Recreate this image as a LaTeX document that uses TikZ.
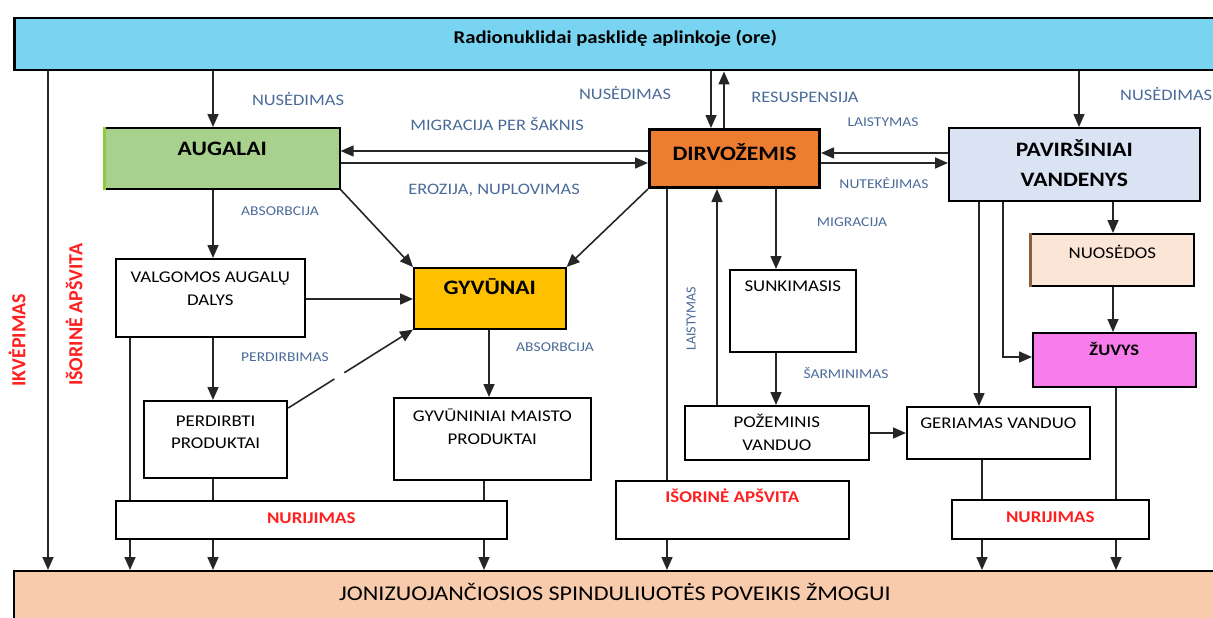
\documentclass[tikz,border=0pt]{standalone}
\usepackage{fontspec}
\setmainfont{Carlito}[FakeStretch=1.15]
\newfontfamily\upfont{Carlito}
\usetikzlibrary{arrows.meta,calc}
\definecolor{airblue}{HTML}{78D4F1}
\definecolor{humanpeach}{HTML}{F8CBAD}
\definecolor{plantgreen}{HTML}{A9D18E}
\definecolor{plantedge}{HTML}{92C83E}
\definecolor{soilorange}{HTML}{ED7D31}
\definecolor{waterblue}{HTML}{DAE3F3}
\definecolor{animalgold}{HTML}{FFC000}
\definecolor{sedpeach}{HTML}{FBE5D6}
\definecolor{sededge}{HTML}{8B5E3C}
\definecolor{fishpink}{HTML}{F77DEC}
\definecolor{pathblue}{HTML}{4A6B98}
\definecolor{routered}{HTML}{FF1F1F}

\begin{document}
\begin{tikzpicture}[x=1pt,y=-1pt,
    box/.style n args={3}{draw=black,line width=1.6pt,anchor=north west,inner sep=0pt,fill=white,
        execute at begin node={\begin{minipage}[c][#2pt][t]{#1pt}\centering\vspace*{#3pt}\strut},
        execute at end node={\end{minipage}}},
    boxtxt/.style={font=\fontsize{16.4}{22.5}\selectfont},
    headtxt/.style={font=\bfseries\fontsize{20.5}{30}\selectfont},
    redtxt/.style={font=\bfseries\fontsize{16.4}{22.5}\selectfont,text=routered},
    lbl/.style={font=\fontsize{16}{19}\selectfont,text=pathblue,inner sep=0pt},
    slbl/.style={font=\fontsize{13.5}{16}\selectfont,text=pathblue,inner sep=0pt},
    vlbl/.style={rotate=90,anchor=west,inner sep=0pt},
    ln/.style={draw=black!85,line width=1.6pt},
    arr/.style={ln,-{Triangle[length=13pt,width=11pt]}},
  ]
  \useasboundingbox (0,0) rectangle (1213,618);

  % source and receptor
  \node[box={1202}{52}{8.9},fill=airblue,line width=2.5pt,font=\bfseries\fontsize{18}{24}\selectfont]
    (air) at (13,17) {Radionuklidai pasklidę aplinkoje (ore)};
  \node[box={1202}{52}{10.6},fill=humanpeach,line width=2pt,font=\fontsize{21}{27}\selectfont]
    (human) at (13,570) {JONIZUOJANČIOSIOS SPINDULIUOTĖS POVEIKIS ŽMOGUI};

  % compartments
  \node[box={235}{61}{6.5},headtxt,fill=plantgreen] (aug) at (104,127) {AUGALAI};
  \node[box={170}{58}{9.5},headtxt,fill=soilorange,line width=3pt] (dirv) at (648,128) {DIRVOŽEMIS};
  \node[box={251}{73}{7.5},headtxt,fill=waterblue] (pav) at (948,127) {PAVIRŠINIAI\par VANDENYS};
  \node[box={152}{61}{5.5},headtxt,fill=animalgold] (gyv) at (413,267) {GYVŪNAI};
  \node[box={189}{78}{8.4},boxtxt] (valg) at (115,258) {VALGOMOS AUGALŲ\par DALYS};
  \node[box={143}{77}{9.4},boxtxt,line width=2.2pt] (perd) at (143,400) {PERDIRBTI\par PRODUKTAI};
  \node[box={197}{82}{8.4},boxtxt] (gyvn) at (393,397) {GYVŪNINIAI MAISTO\par PRODUKTAI};
  \node[box={391}{38}{7.4},redtxt] (nurl) at (115,500) {NURIJIMAS};
  \node[box={126}{82}{6.4},boxtxt] (sunk) at (729,269) {SUNKIMASIS};
  \node[box={184}{54}{6.4},boxtxt] (poz) at (684,405) {POŽEMINIS\par VANDUO};
  \node[box={233}{58}{6.4},redtxt] (isor) at (615,480) {IŠORINĖ APŠVITA};
  \node[box={183}{52}{6.4},boxtxt] (ger) at (906,406) {GERIAMAS VANDUO};
  \node[box={163}{52}{9.4},boxtxt,fill=sedpeach] (nuos) at (1030,233) {NUOSĖDOS};
  \node[box={163}{54}{7.3},fill=fishpink,font=\bfseries\fontsize{16}{22.5}\selectfont] (zuv) at (1032,332) {ŽUVYS};
  \node[box={197}{39}{7.4},redtxt] (nurr) at (951,499) {NURIJIMAS};
  \draw[line width=3pt,plantedge] (aug.north west) -- (aug.south west);
  \draw[line width=3pt,sededge] (nuos.north west) -- (nuos.south west);

  % pathway labels
  \node[lbl] (dep1) at (298,99) {NUSĖDIMAS};
  \node[lbl] (dep2) at (625,93) {NUSĖDIMAS};
  \node[lbl] (resus) at (805,97) {RESUSPENSIJA};
  \node[lbl,anchor=west] (dep3) at (1120,94) {NUSĖDIMAS};
  \node[lbl] (roots) at (497,124) {MIGRACIJA PER ŠAKNIS};
  \node[lbl] (erosion) at (494,190) {EROZIJA, NUPLOVIMAS};
  \node[slbl] (abs1) at (280,211) {ABSORBCIJA};
  \node[slbl] (irrig1) at (883,122) {LAISTYMAS};
  \node[slbl] (runoff) at (884,183) {NUTEKĖJIMAS};
  \node[slbl] (migr) at (852,222) {MIGRACIJA};
  \node[slbl] (proc) at (285,357) {PERDIRBIMAS};
  \node[slbl] (abs2) at (555,347) {ABSORBCIJA};
  \node[slbl] (alkal) at (846,373) {ŠARMINIMAS};
  \node[vlbl,text=pathblue,font=\upfont\fontsize{14}{16}\selectfont] (irrig2) at (691,351) {LAISTYMAS};
  \node[vlbl,text=routered,font=\upfont\bfseries\fontsize{20}{24}\selectfont] (inhale) at (17,387) {IKVĖPIMAS};
  \node[vlbl,text=routered,font=\upfont\bfseries\fontsize{20}{24}\selectfont] (extleft) at (74,386) {IŠORINĖ APŠVITA};

  % from the air
  \draw[arr] (air.south -| 48,0) -- (human.north -| 48,0);
  \draw[arr] (air.south -| 213,0) -- (aug.north -| 213,0);
  \draw[arr] (air.south -| 711,0) -- (dirv.north -| 711,0);
  \draw[arr] (dirv.north -| 724,0) -- (air.south -| 724,0);
  \draw[arr] (air.south -| 1079,0) -- (pav.north -| 1079,0);

  % soil exchanges
  \draw[arr] (dirv.west |- 0,151) -- (aug.east |- 0,151);
  \draw[arr] (aug.east |- 0,163) -- (dirv.west |- 0,163);
  \draw[arr] (pav.west |- 0,153) -- (dirv.east |- 0,153);
  \draw[arr] (dirv.east |- 0,163) -- (pav.west |- 0,163);

  % food chain
  \draw[arr] (aug.south east) -- (gyv.north west);
  \draw[arr] (dirv.south west) -- (gyv.north east);
  \draw[arr] (aug.south -| 213,0) -- (valg.north -| 213,0);
  \draw[arr] (valg.east |- 0,299) -- (gyv.west |- 0,299);
  \draw[arr] (valg.south -| 213,0) -- (perd.north -| 213,0);
  \coordinate (perdout) at (perd.east |- 0,408);
  \draw[ln] (perdout) -- ($(perdout)!0.37!(gyv.south west)$);
  \draw[arr] ($(perdout)!0.45!(gyv.south west)$) -- (gyv.south west);
  \draw[arr] (gyv.south -| 489,0) -- (gyvn.north -| 489,0);

  % ingestion, left
  \draw[ln] (valg.south -| 130,0) -- (nurl.north -| 130,0);
  \draw[arr] (nurl.south -| 130,0) -- (human.north -| 130,0);
  \draw[ln] (perd.south -| 213,0) -- (nurl.north -| 213,0);
  \draw[arr] (nurl.south -| 213,0) -- (human.north -| 213,0);
  \draw[ln] (gyvn.south -| 484,0) -- (nurl.north -| 484,0);
  \draw[arr] (nurl.south -| 484,0) -- (human.north -| 484,0);

  % soil and water
  \draw[ln] (dirv.south -| 667,0) -- (isor.north -| 667,0);
  \draw[arr] (isor.south -| 667,0) -- (human.north -| 667,0);
  \draw[arr] (poz.north -| 717,0) -- (dirv.south -| 717,0);
  \draw[arr] (dirv.south -| 776,0) -- (sunk.north -| 776,0);
  \draw[arr] (sunk.south -| 776,0) -- (poz.north -| 776,0);
  \draw[arr] (poz.east |- 0,433) -- (ger.west |- 0,433);
  \draw[arr] (pav.south -| 979,0) -- (ger.north -| 979,0);
  \draw[arr] (pav.south -| 1003,0) |- (zuv.west |- 0,357);
  \draw[arr] (pav.south -| 1113,0) -- (nuos.north -| 1113,0);
  \draw[arr] (nuos.south -| 1113,0) -- (zuv.north -| 1113,0);

  % ingestion, right
  \draw[ln] (ger.south -| 982,0) -- (nurr.north -| 982,0);
  \draw[arr] (nurr.south -| 982,0) -- (human.north -| 982,0);
  \draw[ln] (zuv.south -| 1116,0) -- (nurr.north -| 1116,0);
  \draw[arr] (nurr.south -| 1116,0) -- (human.north -| 1116,0);
\end{tikzpicture}
\end{document}
